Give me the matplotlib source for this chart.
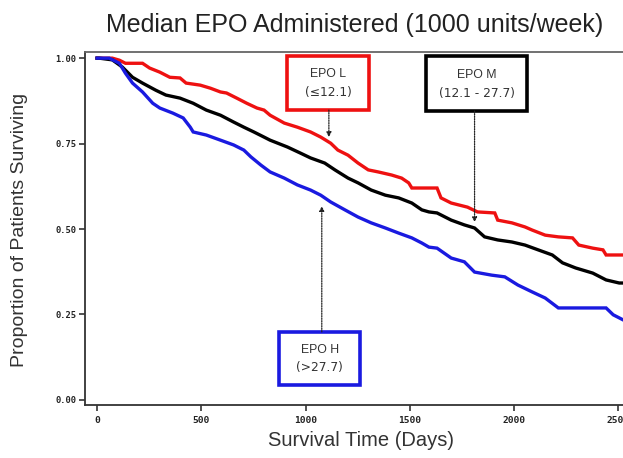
import matplotlib
matplotlib.use("Agg")
import matplotlib.pyplot as plt
from matplotlib.patches import Rectangle

# ---- data ----
red_days = [0, 73, 107, 136, 218, 252, 301, 349, 398, 427, 495, 544, 592, 621, 670, 718,
            767, 801, 830, 898, 961, 1024, 1073, 1121, 1155, 1204, 1252, 1301, 1349, 1413,
            1461, 1495, 1510, 1631, 1650, 1699, 1777, 1825, 1908, 1922, 1990, 2053, 2087,
            2150, 2213, 2281, 2311, 2378, 2427, 2442, 2553]
red_surv = [1.0, 1.0, 0.994, 0.985, 0.985, 0.971, 0.959, 0.944, 0.942, 0.927, 0.921,
            0.912, 0.901, 0.898, 0.883, 0.868, 0.854, 0.848, 0.833, 0.810, 0.798, 0.784,
            0.769, 0.751, 0.731, 0.716, 0.693, 0.673, 0.667, 0.658, 0.649, 0.635, 0.620,
            0.620, 0.591, 0.576, 0.564, 0.550, 0.547, 0.526, 0.518, 0.506, 0.497, 0.482,
            0.477, 0.474, 0.453, 0.444, 0.439, 0.424, 0.424]

black_days = [0, 10, 73, 121, 170, 218, 282, 330, 398, 461, 524, 592, 655, 704, 752, 801,
              830, 913, 976, 1024, 1092, 1141, 1204, 1252, 1315, 1383, 1447, 1510, 1558,
              1592, 1631, 1699, 1762, 1811, 1859, 1922, 1990, 2053, 2116, 2184, 2233, 2296,
              2378, 2442, 2505, 2553]
black_surv = [1.0, 1.0, 0.995, 0.974, 0.944, 0.927, 0.906, 0.892, 0.883, 0.868, 0.848,
              0.833, 0.813, 0.798, 0.784, 0.769, 0.760, 0.740, 0.722, 0.708, 0.693, 0.673,
              0.649, 0.635, 0.614, 0.599, 0.591, 0.576, 0.556, 0.550, 0.547, 0.526, 0.512,
              0.503, 0.477, 0.468, 0.462, 0.453, 0.439, 0.424, 0.401, 0.386, 0.371, 0.351,
              0.342, 0.342]

blue_days = [0, 58, 107, 136, 170, 218, 267, 301, 364, 413, 447, 461, 524, 592, 655, 704,
             738, 786, 830, 898, 961, 1024, 1073, 1121, 1189, 1252, 1315, 1383, 1447, 1510,
             1558, 1592, 1631, 1699, 1762, 1811, 1893, 1956, 2019, 2087, 2150, 2213, 2442,
             2476, 2524, 2553]
blue_surv = [1.0, 1.0, 0.985, 0.956, 0.927, 0.901, 0.868, 0.854, 0.839, 0.825, 0.798,
             0.784, 0.775, 0.760, 0.746, 0.731, 0.711, 0.687, 0.667, 0.649, 0.629, 0.614,
             0.599, 0.579, 0.556, 0.535, 0.518, 0.503, 0.488, 0.474, 0.459, 0.447, 0.444,
             0.415, 0.404, 0.374, 0.365, 0.360, 0.336, 0.316, 0.298, 0.269, 0.269, 0.249,
             0.234, 0.225]

x_ticks = [0, 500, 1000, 1500, 2000, 2500]
y_ticks = [0.0, 0.25, 0.50, 0.75, 1.0]
y_tick_labels = ["0.00", "0.25", "0.50", "0.75", "1.00"]

labels = [("EPO L", "(\u226412.1)"), ("EPO M", "(12.1 - 27.7)"), ("EPO H", "(>27.7)")]
colors = ["#ee1111", "#000000", "#1a1ae0"]

# ---- figure ----
W, H = 623, 458
fig = plt.figure(figsize=(W / 100, H / 100), dpi=100)
ax = fig.add_axes([85 / W, 1 - 405 / H, 1 - 85 / W + 0.01, (405 - 52) / H])

ax.plot(red_days, red_surv, color=colors[0], lw=2.4, zorder=3, solid_joinstyle="miter")
ax.plot(black_days, black_surv, color=colors[1], lw=2.4, zorder=4, solid_joinstyle="miter")
ax.plot(blue_days, blue_surv, color=colors[2], lw=2.4, zorder=5, solid_joinstyle="miter")

ax.set_xlim(-58, 2553)
ax.set_ylim(-0.015, 1.018)
ax.set_xticks(x_ticks)
ax.set_yticks(y_ticks)
ax.set_yticklabels(y_tick_labels)
for lab in ax.get_xticklabels():
    lab.set_fontfamily("DejaVu Sans Mono")
    lab.set_fontweight("bold")
    lab.set_fontsize(6.8)
    lab.set_color("#222222")
for lab in ax.get_yticklabels():
    lab.set_fontfamily("DejaVu Sans Mono")
    lab.set_fontweight("bold")
    lab.set_fontsize(6.3)
    lab.set_color("#222222")
ax.tick_params(axis="both", direction="out", length=4, width=1.2, color="#333333")
ax.tick_params(axis="x", pad=4)
ax.tick_params(axis="y", pad=2)
ax.spines["right"].set_visible(False)
for s in ["left", "bottom", "top"]:
    ax.spines[s].set_color("#333333")
    ax.spines[s].set_linewidth(1.3)
ax.spines["top"].set_color("#666666")

# ---- annotation boxes ----
boxes = [
    # (x0, x1, y0, y1, arrow_x, arrow_from_y, arrow_to_y)
    (913, 1306, 0.848, 1.006, 1112, 0.848, 0.769),
    (1578, 2063, 0.845, 1.006, 1811, 0.845, 0.520),
    (874, 1262, 0.044, 0.199, 1078, 0.199, 0.567),
]
for (x0, x1, y0, y1, axx, ay0, ay1), (l1, l2), c in zip(boxes, labels, colors):
    ax.add_patch(Rectangle((x0, y0), x1 - x0, y1 - y0, fill=True, facecolor="white",
                           edgecolor=c, lw=2.6, zorder=6))
    xc = (x0 + x1) / 2
    ax.text(xc, y0 + (y1 - y0) * 0.66, l1, ha="center", va="center", fontsize=8.8,
            color="#333333", family="Liberation Sans", zorder=7)
    ax.text(xc, y0 + (y1 - y0) * 0.32, l2, ha="center", va="center", fontsize=8.8,
            color="#333333", family="DejaVu Sans", zorder=7)
    ax.annotate("", xy=(axx, ay1), xytext=(axx, ay0),
                arrowprops=dict(arrowstyle="-|>", linestyle=(0, (1, 1)), lw=0.9,
                                color="#222222", mutation_scale=7, shrinkA=0, shrinkB=0),
                zorder=7)

fig.text(355 / W, 1 - 25 / H, "Median EPO Administered (1000 units/week)", ha="center",
         va="center", fontsize=18, family="Liberation Sans", color="#222222")
fig.text(361 / W, 1 - 440 / H, "Survival Time (Days)", ha="center", va="center",
         fontsize=14.5, family="Liberation Sans", color="#333333")
fig.text(20 / W, 1 - 230 / H, "Proportion of Patients Surviving", ha="center",
         va="center", rotation=90, fontsize=14, family="Liberation Sans", color="#333333")

fig.savefig("out.png", dpi=100)
